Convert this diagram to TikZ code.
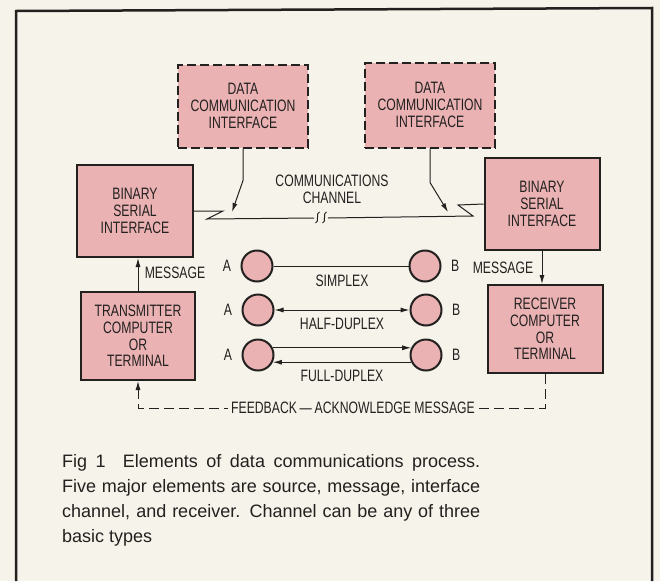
\documentclass[tikz,border=0pt]{standalone}
\usepackage{fontspec}
\setmainfont{Liberation Sans}
\newfontfamily\labelfont[FakeStretch=0.74]{Liberation Sans}
\usetikzlibrary{arrows.meta}
\definecolor{paper}{RGB}{246,243,234}
\definecolor{pinkfill}{RGB}{234,178,178}
\definecolor{ink}{RGB}{35,32,32}

\begin{document}
\begin{tikzpicture}[x=1pt, y=-1pt, font=\labelfont\fontsize{16.5}{16.7}\selectfont, text=ink]
    % Node styles
    \tikzset{box node/.style={draw=ink, line width=2pt, fill=pinkfill, align=center, inner sep=2pt},
             dashed box/.style={box node, dash pattern=on 9pt off 4pt},
             station/.style={circle, draw=ink, line width=2pt, fill=pinkfill, minimum size=31pt, inner sep=0pt},
             link/.style={draw=ink, line width=1pt},
             msg arrow/.style={-{Latex[length=9pt, width=5pt]}}}

    % Paper and frame
    \useasboundingbox (0,0) rectangle (660,581);
    \fill[paper] (0,0) rectangle (660,581);
    \draw[ink, line width=2.5pt] (16,581) -- (16,11) -- (652,8) -- (652,581);

    % Interfaces (dashed) and binary serial interfaces
    \node[dashed box, minimum width=130pt, minimum height=83pt] (dci_l) at (243,106) {DATA\\COMMUNICATION\\INTERFACE};
    \node[dashed box, minimum width=130pt, minimum height=85pt] (dci_r) at (430,105) {DATA\\COMMUNICATION\\INTERFACE};
    \node[box node, minimum width=116pt, minimum height=92pt] (bsi_l) at (135,211) {BINARY\\SERIAL\\INTERFACE};
    \node[box node, minimum width=115pt, minimum height=92pt] (bsi_r) at (542,204) {BINARY\\SERIAL\\INTERFACE};

    % Source and receiver
    \node[box node, minimum width=114pt, minimum height=88pt] (tx) at (138,336) {TRANSMITTER\\COMPUTER\\OR\\TERMINAL};
    \node[box node, minimum width=115pt, minimum height=88pt] (rx) at (545,329) {RECEIVER\\COMPUTER\\OR\\TERMINAL};

    % Communications channel with break
    \coordinate (zig_l) at (207,219);
    \coordinate (zig_r) at (473,216);
    \coordinate (brk_a) at (314,218);
    \coordinate (brk_b) at (328,218);
    \draw[link] (bsi_l.east) -- ++(29,0) -- (zig_l) -- (brk_a);
    \draw[link] (brk_b) -- (zig_r) -- ++(-15,-11) -- (bsi_r.west);
    \draw[link] (315.5,223) .. controls (319.5,223) and (315.5,212) .. (319.5,212);
    \draw[link] (322.5,223) .. controls (326.5,223) and (322.5,212) .. (326.5,212);
    \node[align=center] (ch_lbl) at (332,189) {COMMUNICATIONS\\CHANNEL};

    % Interfaces feed the channel
    \coordinate (in_l) at (232,212);
    \coordinate (in_r) at (448,212);
    \draw[link, msg arrow] (dci_l.south) -- ++(0,32) -- (in_l);
    \draw[link, msg arrow] (dci_r.south) -- ++(0,34) -- (in_r);

    % Message paths
    \draw[link, msg arrow] (tx.north) -- (tx.north |- bsi_l.south);
    \draw[link, msg arrow] (bsi_r.south) -- (bsi_r.south |- rx.north);
    \node (msg_l) at (175,273) {MESSAGE};
    \node (msg_r) at (503,268) {MESSAGE};

    % Three channel types
    \node[station, label={[label distance=6pt]left:A}] (a_s) at (257,266) {};
    \node[station, label={[label distance=6pt]right:B}] (b_s) at (425,266) {};
    \node[station, label={[label distance=6pt]left:A}] (a_h) at (258,310) {};
    \node[station, label={[label distance=6pt]right:B}] (b_h) at (426,310) {};
    \node[station, label={[label distance=6pt]left:A}] (a_f) at (258,355) {};
    \node[station, label={[label distance=6pt]right:B}] (b_f) at (426,355) {};
    \draw[link] (a_s) -- (b_s);
    \draw[link, {Latex[length=9pt, width=5pt]}-{Latex[length=9pt, width=5pt]}] (a_h) -- (b_h);
    \draw[link, msg arrow] (a_f.26) -- (b_f.154);
    \draw[link, msg arrow] (b_f.206) -- (a_f.334);
    \node (simplex) at (342,281) {SIMPLEX};
    \node (half) at (342,324) {HALF-DUPLEX};
    \node (full) at (342,376) {FULL-DUPLEX};

    % Feedback loop
    \coordinate (fb_l) at (138,408);
    \draw[link, dash pattern=on 10pt off 5pt, msg arrow] (rx.south) |- (fb_l) -- (tx.south);
    \node[fill=paper, inner xsep=3pt, inner ysep=1pt] (fb_lbl) at (353,408) {FEEDBACK\,—\,ACKNOWLEDGE MESSAGE};

    % Caption
    \node[anchor=north west, inner sep=0pt, text width=418pt, align=justify,
          font=\fontsize{18}{25}\selectfont] (caption) at (62,454)
        {Fig 1\ \ Elements of data communications process.\linebreak
         Five major elements are source, message, interface\linebreak
         channel, and receiver. Channel can be any of three\linebreak
         basic types};
\end{tikzpicture}
\end{document}
